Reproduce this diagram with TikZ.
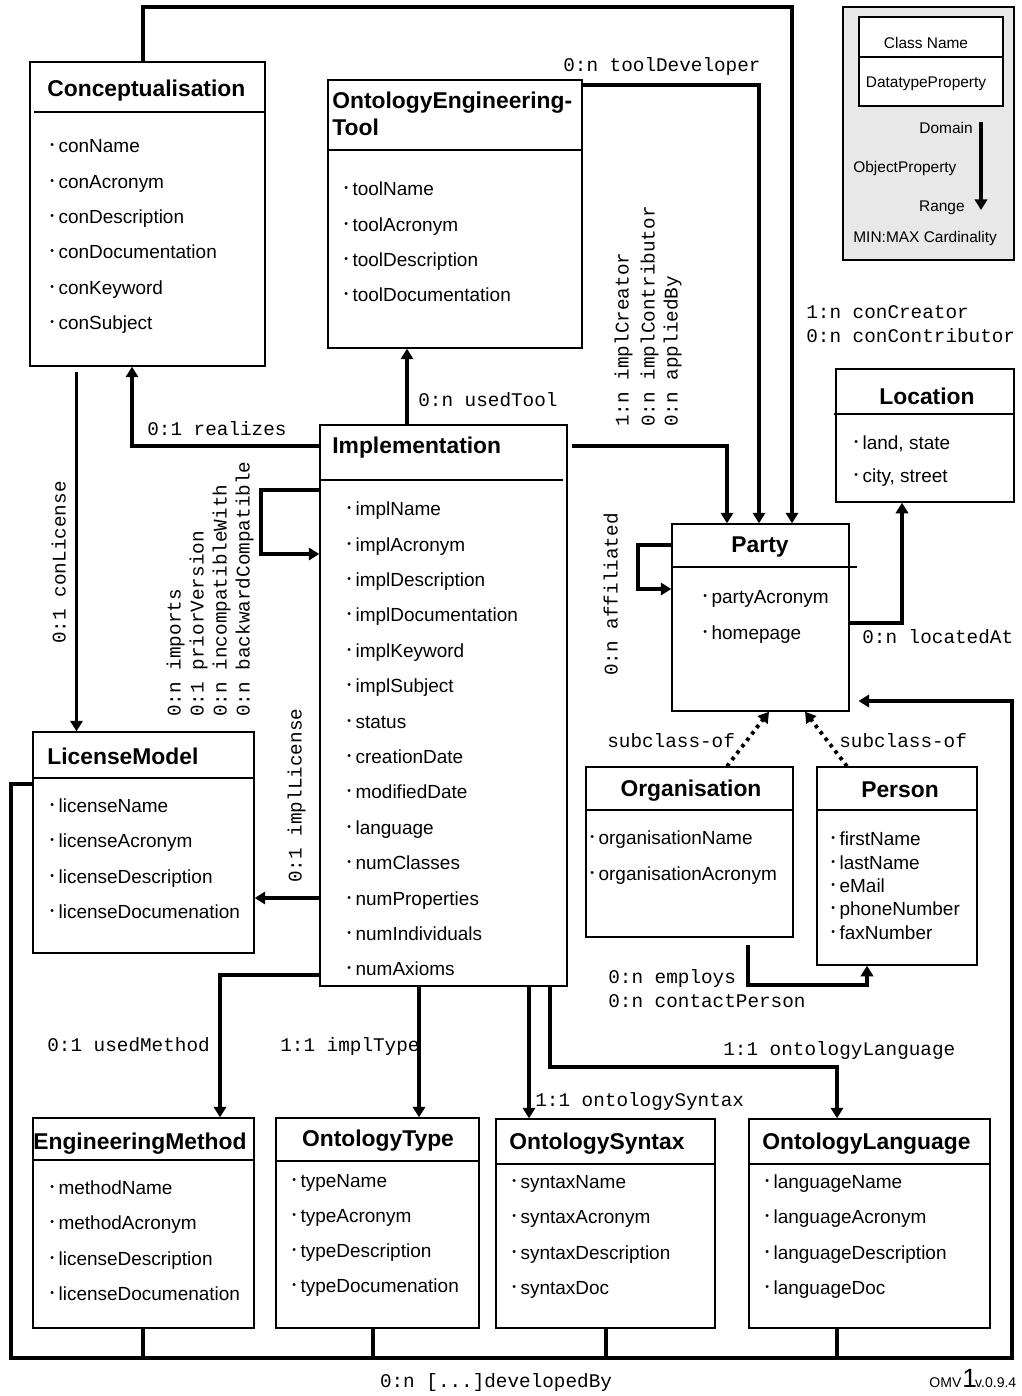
\documentclass[tikz,border=0pt]{standalone}
\usepackage{fontspec}
\setmainfont{Liberation Sans}
\setmonofont{Liberation Mono}
\usetikzlibrary{arrows.meta,fit,calc}

\newcommand{\itm}{\raisebox{0.4ex}{\fontsize{6}{6}\selectfont\textbullet}\hspace{2.6pt}}

\begin{document}
\begin{tikzpicture}[x=0.02cm,y=-0.02cm,
    classbox/.style={draw,line width=0.8pt,fill=white,inner sep=0pt},
    sepline/.style={line width=0.6pt},
    ctitle/.style={font=\fontsize{13}{15}\selectfont\bfseries,inner sep=0pt},
    attr/.style={font=\fontsize{10.8}{13}\selectfont,inner sep=0pt,anchor=mid west},
    rel/.style={line width=2.2pt,-{Triangle[length=6pt,width=7pt]}},
    wire/.style={line width=2.2pt},
    sub/.style={rel,dash pattern=on 2pt off 2.6pt},
    lbl/.style={font=\ttfamily\fontsize{11}{13}\selectfont,inner sep=0pt,anchor=mid west},
    vlbl/.style={lbl,rotate=90},
    legtext/.style={font=\fontsize{8.8}{10}\selectfont,inner sep=0pt}]
    \useasboundingbox[fill=white] (0,0) rectangle (1021,1396);

    % Legende
    \node[draw,line width=0.8pt,fill=gray!18,inner sep=0pt,fit={(843,7) (1014,260)}] (legend) {};
    \node[classbox,fit={(859,17) (1003,106)}] (legcls) {};
    \draw[sepline] (legcls.west |- 0,57) -- (legcls.east |- 0,57);
    \node[legtext] (leg-name) at (926,43) {Class Name};
    \node[legtext] (leg-dtp) at (926,84) {DatatypeProperty};
    \coordinate (legdom) at (981,122);
    \coordinate (legrng) at (981,210);
    \draw[rel] (legdom) -- (legrng);
    \node[legtext,anchor=mid east] (leg-dom) at (973,129) {Domain};
    \node[legtext,anchor=mid west] (leg-obj) at (853,168) {ObjectProperty};
    \node[legtext,anchor=mid east] (leg-rng) at (965,207) {Range};
    \node[legtext,anchor=mid west] (leg-card) at (853,238) {MIN:MAX Cardinality};

    % Conceptualisation
    \node[classbox,fit={(30,62) (265,366)}] (concept) {};
    \draw[sepline] (34,112) -- (concept.east |- 0,112);
    \node[ctitle,anchor=mid west] (concept-t) at (47,92) {Conceptualisation};
    \foreach \t [count=\i] in {conName,conAcronym,conDescription,conDocumentation,conKeyword,conSubject}
        \node[attr] (concept-a\i) at (50,{148+35.4*(\i-1)}) {\itm\t};

    % OntologyEngineering-Tool
    \node[classbox,fit={(328,80) (582,348)}] (tool) {};
    \draw[sepline] (tool.west |- 0,150) -- (tool.east |- 0,150);
    \node[ctitle,anchor=mid west] (tool-t1) at (332,104) {OntologyEngineering-};
    \node[ctitle,anchor=mid west] (tool-t2) at (332,131) {Tool};
    \foreach \t [count=\i] in {toolName,toolAcronym,toolDescription,toolDocumentation}
        \node[attr] (tool-a\i) at (344,{191+35.4*(\i-1)}) {\itm\t};

    % Implementation
    \node[classbox,fit={(320,425) (567,986)}] (impl) {};
    \draw[sepline] (impl.west |- 0,480) -- (563,480);
    \node[ctitle,anchor=mid west] (impl-t) at (332,449) {Implementation};
    \foreach \t [count=\i] in {implName,implAcronym,implDescription,implDocumentation,implKeyword,implSubject,status,creationDate,modifiedDate,language,numClasses,numProperties,numIndividuals,numAxioms}
        \node[attr] (impl-a\i) at (347,{511+35.4*(\i-1)}) {\itm\t};

    % LicenseModel
    \node[classbox,fit={(33,732) (254,953)}] (license) {};
    \draw[sepline] (license.west |- 0,778) -- (license.east |- 0,778);
    \node[ctitle,anchor=mid west] (license-t) at (47,760) {LicenseModel};
    \foreach \t [count=\i] in {licenseName,licenseAcronym,licenseDescription,licenseDocumenation}
        \node[attr] (license-a\i) at (50,{808+35.3*(\i-1)}) {\itm\t};

    % Location
    \node[classbox,fit={(836,369) (1014,502)}] (location) {};
    \draw[sepline] (834,414) -- (location.east |- 0,414);
    \node[ctitle] (location-t) at (927,396) {Location};
    \foreach \t [count=\i] in {{land, state},{city, street}}
        \node[attr] (location-a\i) at (854,{445+33.3*(\i-1)}) {\itm\t};

    % Party
    \node[classbox,fit={(672,524) (849,711)}] (party) {};
    \draw[sepline] (party.west |- 0,567) -- (857,567);
    \node[ctitle] (party-t) at (760,547) {Party};
    \foreach \t [count=\i] in {partyAcronym,homepage}
        \node[attr] (party-a\i) at (703,{599+36*(\i-1)}) {\itm\t};

    % Organisation
    \node[classbox,fit={(586,767) (793,937)}] (org) {};
    \draw[sepline] (org.west |- 0,810) -- (org.east |- 0,810);
    \node[ctitle] (org-t) at (691,791) {Organisation};
    \foreach \t [count=\i] in {organisationName,organisationAcronym}
        \node[attr] (org-a\i) at (590,{840+36*(\i-1)}) {\itm\t};

    % Person
    \node[classbox,fit={(817,767) (977,965)}] (person) {};
    \draw[sepline] (person.west |- 0,810) -- (person.east |- 0,810);
    \node[ctitle] (person-t) at (900,790) {Person};
    \foreach \t [count=\i] in {firstName,lastName,eMail,phoneNumber,faxNumber}
        \node[attr] (person-a\i) at (831,{841+23.4*(\i-1)}) {\itm\t};

    % EngineeringMethod
    \node[classbox,fit={(33,1118) (254,1328)}] (method) {};
    \draw[sepline] (method.west |- 0,1160) -- (method.east |- 0,1160);
    \node[ctitle,anchor=mid west] (method-t) at (33,1145) {EngineeringMethod};
    \foreach \t [count=\i] in {methodName,methodAcronym,licenseDescription,licenseDocumenation}
        \node[attr] (method-a\i) at (50,{1190+35.3*(\i-1)}) {\itm\t};

    % OntologyType
    \node[classbox,fit={(276,1118) (479,1328)}] (otype) {};
    \draw[sepline] (otype.west |- 0,1161) -- (otype.east |- 0,1161);
    \node[ctitle] (otype-t) at (378,1141) {OntologyType};
    \foreach \t [count=\i] in {typeName,typeAcronym,typeDescription,typeDocumenation}
        \node[attr] (otype-a\i) at (292,{1183+35.1*(\i-1)}) {\itm\t};

    % OntologySyntax
    \node[classbox,fit={(496,1119) (715,1328)}] (osyntax) {};
    \draw[sepline] (osyntax.west |- 0,1164) -- (osyntax.east |- 0,1164);
    \node[ctitle,anchor=mid west] (osyntax-t) at (509,1145) {OntologySyntax};
    \foreach \t [count=\i] in {syntaxName,syntaxAcronym,syntaxDescription,syntaxDoc}
        \node[attr] (osyntax-a\i) at (512,{1184+35.3*(\i-1)}) {\itm\t};

    % OntologyLanguage
    \node[classbox,fit={(749,1119) (990,1328)}] (olang) {};
    \draw[sepline] (olang.west |- 0,1164) -- (olang.east |- 0,1164);
    \node[ctitle,anchor=mid west] (olang-t) at (762,1145) {OntologyLanguage};
    \foreach \t [count=\i] in {languageName,languageAcronym,languageDescription,languageDoc}
        \node[attr] (olang-a\i) at (765,{1184+35.3*(\i-1)}) {\itm\t};

    % Relations vers Party
    \draw[rel] (concept.north -| 143,0) -- (143,7) -- (792,7) -- (party.north -| 792,0);
    \draw[rel] (tool.east |- 0,85) -| (party.north -| 759,0);
    \node[lbl] (l-tooldev) at (563,67) {0:n toolDeveloper};
    \draw[rel,shorten <=2.5pt] (impl.east |- 0,446) -| (party.north -| 727,0);
    \node[vlbl] (l-implcre) at (624,427) {1:n implCreator};
    \node[vlbl] (l-implcon) at (650,427) {0:n implContributor};
    \node[vlbl] (l-applied) at (673,427) {0:n appliedBy};
    \node[lbl] (l-concre) at (806,314) {1:n conCreator};
    \node[lbl] (l-concon) at (806,338) {0:n conContributor};

    % Relations de Implementation
    \draw[rel] (impl.west |- 0,446) -| (concept.south -| 132,0);
    \node[lbl] (l-realizes) at (147,431) {0:1 realizes};
    \draw[rel] (impl.north -| 407,0) -- (tool.south -| 407,0);
    \node[lbl] (l-usedtool) at (418,402) {0:n usedTool};
    \draw[rel] (impl.west |- 0,490) -- (261,490) |- (impl.west |- 0,554);
    \node[vlbl] (l-imports) at (176,717) {0:n imports};
    \node[vlbl] (l-prior) at (199,717) {0:1 priorVersion};
    \node[vlbl] (l-incomp) at (222,717) {0:n incompatibleWith};
    \node[vlbl] (l-backw) at (245,717) {0:n backwardCompatible};
    \draw[rel] (impl.west |- 0,898) -- (license.east |- 0,898);
    \node[vlbl] (l-impllic) at (297,883) {0:1 implLicense};
    \draw[rel,shorten <=3pt] (concept.south -| 76.5,0) -- (license.north -| 76.5,0);
    \node[vlbl] (l-conlic) at (61,644) {0:1 conLicense};

    % Relations vers le bas
    \draw[rel] (impl.west |- 0,975) -| (method.north -| 220,0);
    \node[lbl] (l-method) at (47,1047) {0:1 usedMethod};
    \draw[rel] (impl.south -| 419,0) -- (otype.north -| 419,0);
    \node[lbl] (l-impltype) at (280,1047) {1:1 implType};
    \draw[rel] (impl.south -| 529,0) -- (osyntax.north -| 529,0);
    \node[lbl] (l-syntax) at (535,1102) {1:1 ontologySyntax};
    \draw[rel] (impl.south -| 550,0) |- (837,1067) -- (olang.north -| 837,0);
    \node[lbl] (l-lang) at (723,1051) {1:1 ontologyLanguage};

    % Party, Organisation, Person, Location
    \draw[rel] (party.west |- 0,545) -- (638,545) |- (party.west |- 0,589);
    \node[vlbl] (l-affil) at (613,676) {0:n affiliated};
    \draw[rel] (party.east |- 0,623) -| (location.south -| 902,0);
    \node[lbl] (l-located) at (862,639) {0:n locatedAt};
    \draw[sub] (org.north -| 727,0) -- (party.south -| 769,0);
    \draw[sub] (person.north -| 847,0) -- (party.south -| 805,0);
    \node[lbl] (l-sub1) at (607,743) {subclass-of};
    \node[lbl] (l-sub2) at (839,743) {subclass-of};
    \draw[rel,shorten <=4pt] (org.south -| 748,0) -- (748,985) -| (person.south -| 867,0);
    \node[lbl] (l-employs) at (608,979) {0:n employs};
    \node[lbl] (l-contact) at (608,1003) {0:n contactPerson};

    % developedBy
    \draw[rel,shorten >=5pt] (license.west |- 0,784) -| (11,1358) -| (1012,701) -- (party.east |- 0,701);
    \foreach \n/\x in {method/143,otype/373,osyntax/606,olang/837}
        \draw[wire] (\n.south -| \x,0) -- (\x,1358);
    \node[lbl,anchor=center] (l-devby) at (496,1382) {0:n [...]developedBy};

    % Version
    \node[anchor=base west,inner sep=0pt] (omv) at (929,1387)
        {\fontsize{8}{8}\selectfont OMV\kern0.5pt{\fontsize{15}{15}\selectfont 1}\kern-1pt v.0.9.4};
\end{tikzpicture}
\end{document}
